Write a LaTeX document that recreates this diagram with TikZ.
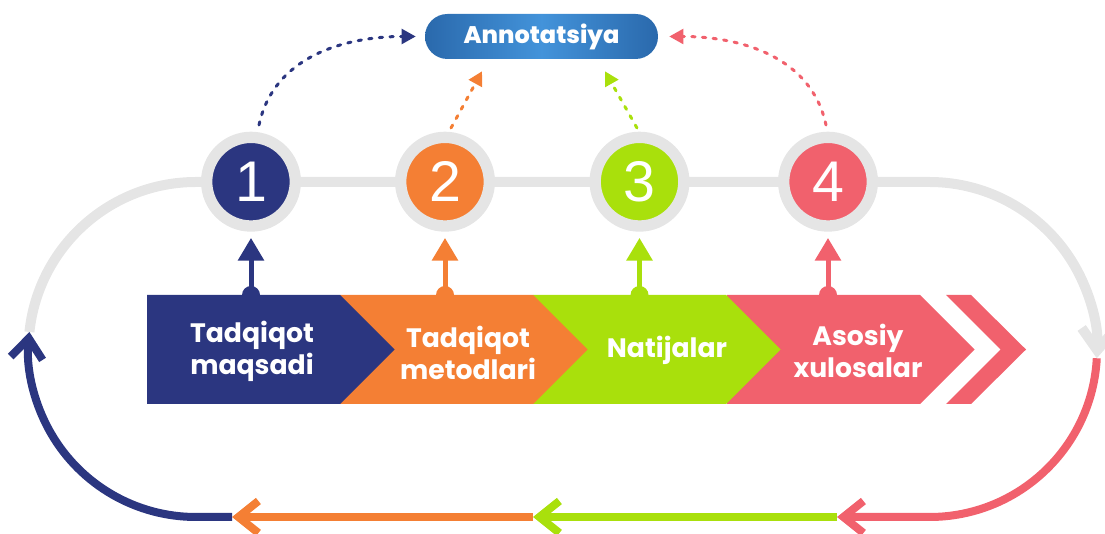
\documentclass[tikz,border=0pt]{standalone}
\usepackage{fontspec}
\setmainfont{Liberation Sans}
\newfontfamily\popfont{Poppins}
\newfontfamily\popheavy{Poppins}[UprightFont=* ExtraBold]
\usepackage{tikz}
\usetikzlibrary{arrows.meta,calc}
\definecolor{navyc}{HTML}{2B3680}
\definecolor{orangec}{HTML}{F47F34}
\definecolor{greenc}{HTML}{A9E00C}
\definecolor{pinkc}{HTML}{F1616D}
\definecolor{trackc}{HTML}{E5E5E5}
\definecolor{pilldark}{HTML}{2A69AC}
\definecolor{pilllight}{HTML}{4393DA}

\begin{document}
\begin{tikzpicture}[x=0.75pt,y=0.75pt,
    loopline/.style={line width=6pt,-{Straight Barb[length=15pt,width=24pt,sharp]}},
    dotline/.style={line width=2.25pt,dash pattern=on 2.5pt off 5.5pt,line cap=round,-{Triangle[length=10.5pt,width=11pt]}},
    riser/.style={line width=3.75pt,-{Triangle[length=17pt,width=19pt]},shorten >=4.7pt},
    numcirc/.style={circle,draw=trackc,line width=8.5pt,minimum size=66.5pt,inner sep=0pt,text=white,font=\fontsize{43}{43}\selectfont},
    barlabel/.style={text=white,align=center,font=\popfont\bfseries\fontsize{20}{24}\selectfont},
    pill/.style={rounded corners=16.8pt,minimum width=174.75pt,minimum height=33.75pt,left color=pilldark,right color=pilldark,middle color=pilllight,text=white,font=\popheavy\fontsize{18}{20}\selectfont}]
    \useasboundingbox (0,0) rectangle (1105,534);
    \coordinate (lc) at (196,184.5);
    \coordinate (rc) at (929.5,184.5);
    \coordinate (b1) at (232,17);
    \coordinate (b2) at (533,17);
    \coordinate (b3) at (837,17);
    % loop round the steps
    \draw[trackc,line width=7.5pt,-{Straight Barb[length=16pt,width=25pt,sharp]}] ($(lc)+(174:167.5)$) arc[start angle=174,end angle=90,radius=167.5] -- (929.5,352) arc[start angle=90,end angle=-3,radius=167.5];
    \draw[loopline,navyc] (b1) -- (196,17) arc[start angle=270,end angle=174,radius=167.5];
    \draw[loopline,orangec] (b2) -- (b1);
    \draw[loopline,greenc] (b3) -- (b2);
    \draw[loopline,pinkc] ($(rc)+(-3:167.5)$) arc[start angle=-3,end angle=-90,radius=167.5] -- (b3);
    \foreach \x/\c in {727/pinkc,533/greenc,340/orangec,147/navyc}
    \fill[\c] (\x,130) -- (\x+193,130) -- (\x+247.5,184.5) -- (\x+193,239) -- (\x,239) -- cycle;
    \fill[pinkc] (946,239) -- (971,239) -- (1026,184.5) -- (971,130) -- (946,130) -- (1000.5,184.5) -- cycle;
    \foreach \i/\x/\c in {1/251/navyc,2/445/orangec,3/639.5/greenc,4/828/pinkc}
    {
    \node[numcirc,fill=\c] (c\i) at (\x,352.3) {\i};
    \fill[\c] (\x,239) circle (9);
    \draw[riser,\c] (\x,239) -- (c\i.south);
    }
    \node[pill] (ann) at (541.5,497.5) {Annotatsiya};
    \draw[dotline,navyc] ([shift={(6pt,5pt)}]c1.north) to[out=78,in=180] ([xshift=-6.75pt]ann.west);
    \draw[dotline,orangec] ([shift={(4.5pt,2.8pt)}]c2.north) -- ([shift={(-44.6pt,-9pt)}]ann.south);
    \draw[dotline,greenc] ([shift={(-1.9pt,2.8pt)}]c3.north) -- ([shift={(47.6pt,-9pt)}]ann.south);
    \draw[dotline,pinkc] ([shift={(-1.5pt,5pt)}]c4.north) to[out=102,in=0] ([xshift=8.25pt]ann.east);
    \node[barlabel] (t1) at (252,183) {Tadqiqot\\maqsadi};
    \node[barlabel] (t2) at (468,181) {Tadqiqot\\metodlari};
    \node[barlabel] (t3) at (667,184) {Natijalar};
    \node[barlabel] (t4) at (858,183) {Asosiy\\xulosalar};
\end{tikzpicture}
\end{document}
